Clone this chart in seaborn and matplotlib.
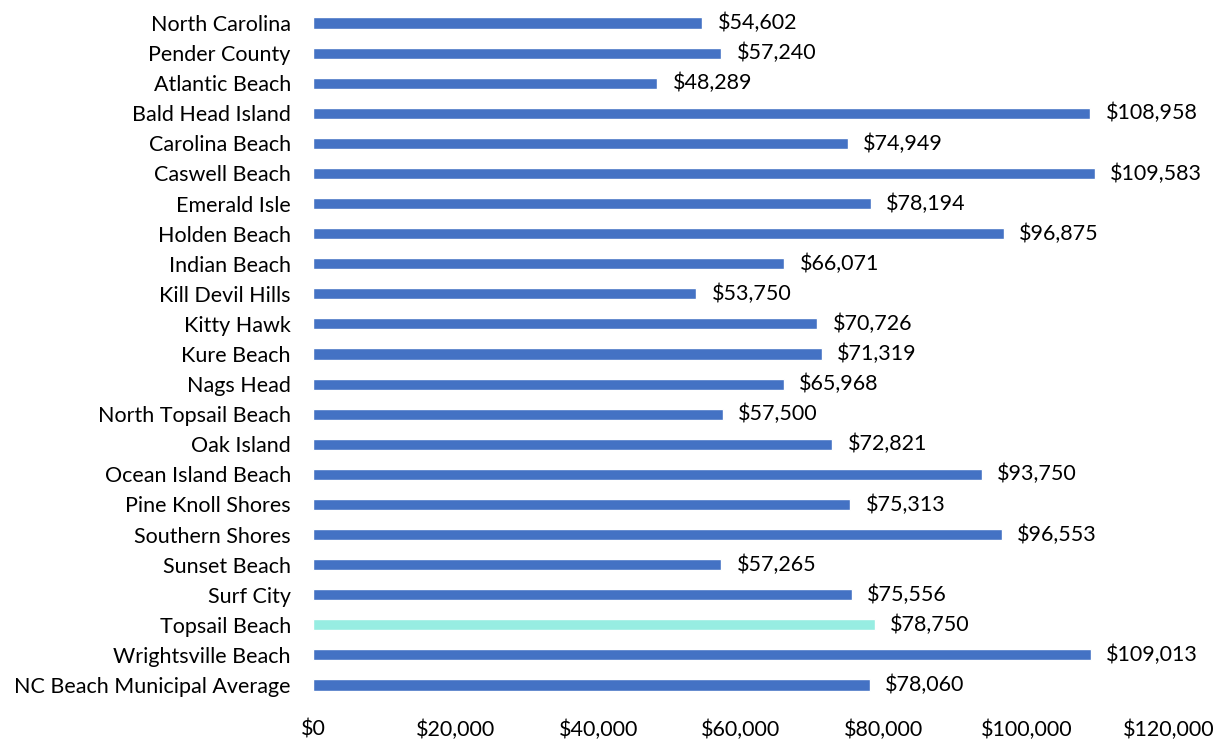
import matplotlib
matplotlib.use("Agg")
import matplotlib.pyplot as plt
import seaborn as sns
import pandas as pd
from matplotlib.ticker import FuncFormatter

# Dados
places = ["North Carolina", "Pender County", "Atlantic Beach", "Bald Head Island",
          "Carolina Beach", "Caswell Beach", "Emerald Isle", "Holden Beach",
          "Indian Beach", "Kill Devil Hills", "Kitty Hawk", "Kure Beach",
          "Nags Head", "North Topsail Beach", "Oak Island", "Ocean Island Beach",
          "Pine Knoll Shores", "Southern Shores", "Sunset Beach", "Surf City",
          "Topsail Beach", "Wrightsville Beach", "NC Beach Municipal Average"]
income = [54602, 57240, 48289, 108958, 74949, 109583, 78194, 96875, 66071,
          53750, 70726, 71319, 65968, 57500, 72821, 93750, 75313, 96553,
          57265, 75556, 78750, 109013, 78060]
highlight = "Topsail Beach"

df = pd.DataFrame({"place": places, "income": income})
df["group"] = ["hl" if p == highlight else "base" for p in places]

sns.set_theme(style="white")
plt.rcParams["font.family"] = ["Lato", "DejaVu Sans"]

fig = plt.figure(figsize=(12.15, 7.42), dpi=100)
ax = fig.add_axes([0.2576, 0.0566, 0.7045, 0.9326])

sns.barplot(data=df, x="income", y="place", hue="group",
            palette={"base": "#4472C4", "hl": "#97EDE2"}, saturation=1,
            dodge=False, width=0.37, legend=False, ax=ax)

for cont in ax.containers:
    ax.bar_label(cont, labels=[f"${v:,.0f}" if v == v else "" for v in cont.datavalues],
                 padding=11, fontsize=15.5, color="#000000")

ax.set_xlim(0, 120000)
ax.set_xticks(range(0, 120001, 20000))
ax.xaxis.set_major_formatter(FuncFormatter(lambda v, p: f"${v:,.0f}"))
ax.set_xlabel("")
ax.set_ylabel("")
ax.tick_params(axis="both", labelsize=15.5, length=0, colors="#000000")
ax.tick_params(axis="x", pad=14)
ax.tick_params(axis="y", pad=16)
for s in ax.spines.values():
    s.set_visible(False)

fig.savefig("out.png", dpi=100)
